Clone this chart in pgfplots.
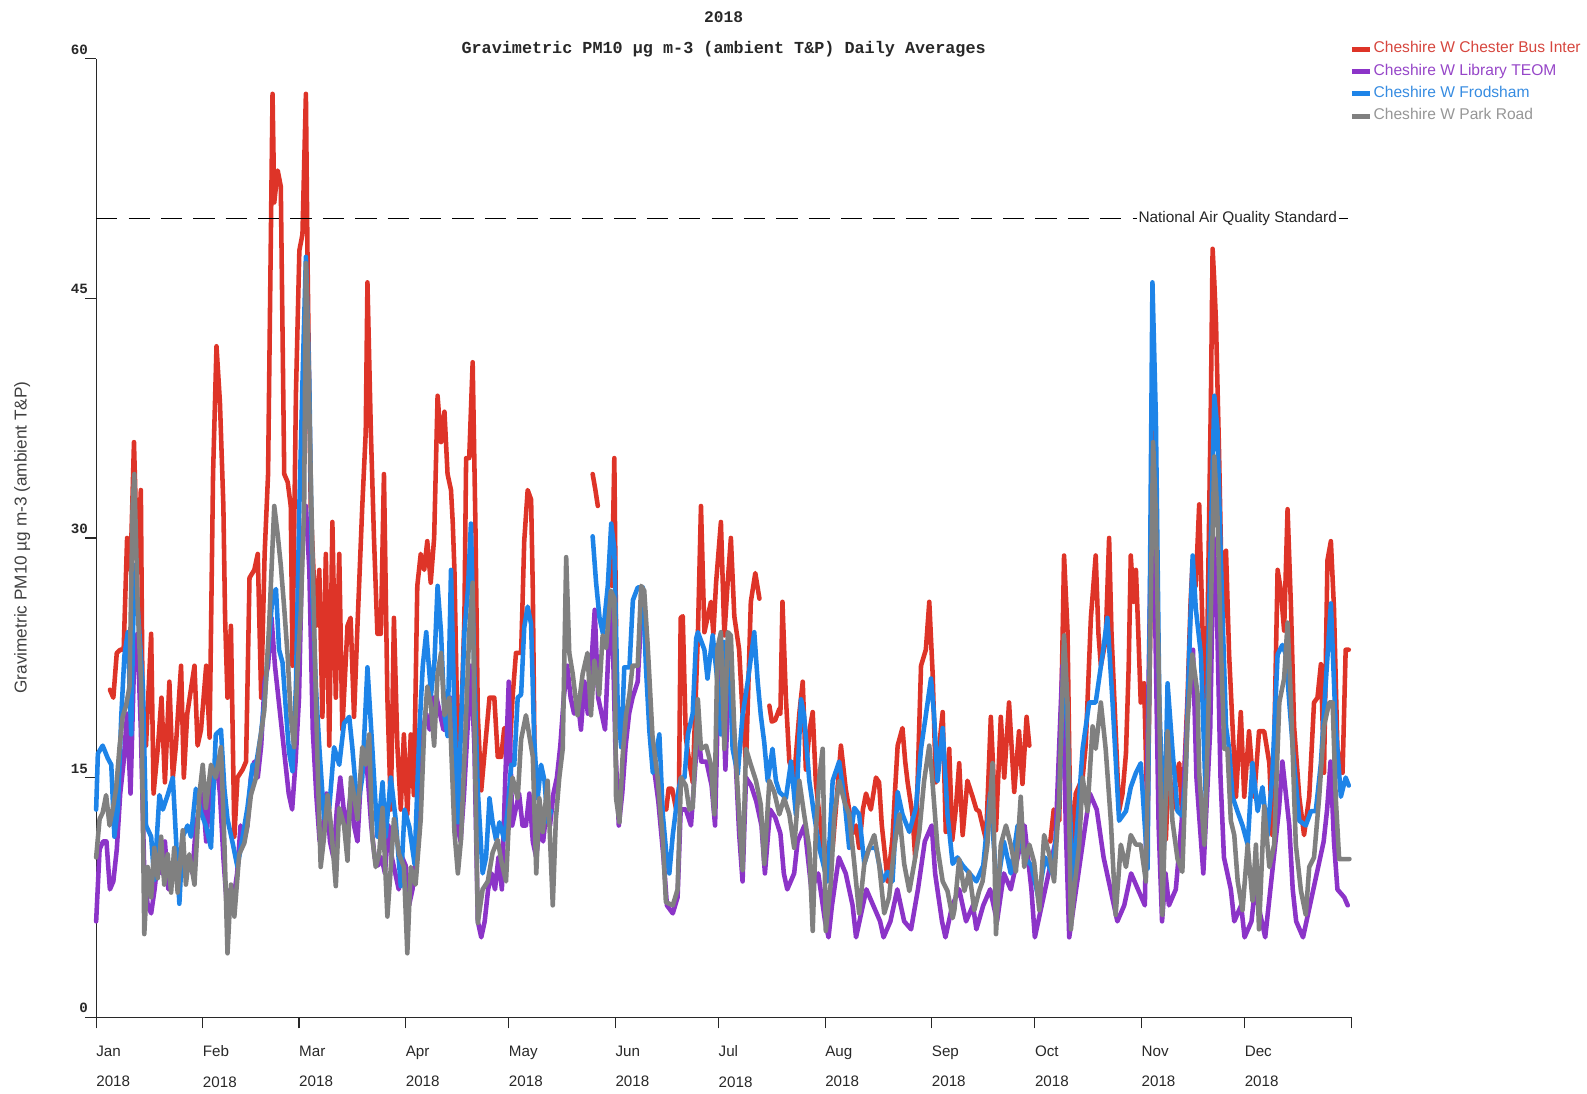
\documentclass[border=0pt]{standalone}
\usepackage{fontspec}
\setmainfont{Liberation Sans}
\newfontfamily\monob{Liberation Mono}
\usepackage{pgfplots}
\pgfplotsset{compat=1.18}
\definecolor{cred}{RGB}{222,52,40}
\definecolor{cpur}{RGB}{140,52,200}
\definecolor{cblu}{RGB}{30,132,232}
\definecolor{cgry}{RGB}{128,128,128}
\definecolor{tred}{RGB}{214,70,62}
\definecolor{tpur}{RGB}{150,70,200}
\definecolor{tblu}{RGB}{55,140,225}
\definecolor{tgry}{RGB}{150,150,150}
\definecolor{axc}{RGB}{40,40,40}
\begin{document}
\begin{tikzpicture}
\path[use as bounding box] (-95pt,-75pt) rectangle (1473pt,1005pt);
\begin{axis}[name=ax, at={(0,0)}, anchor=south west,
  scale only axis, width=1240pt, height=947pt,
  xmin=0, xmax=365, ymin=0, ymax=60,
  axis x line=bottom, axis y line=left,
  axis line style={-, axc, line width=1.1pt},
  tick style={axc, line width=1.1pt},
  tick align=outside, major tick length=11pt,
  xtick={0,31,59,90,120,151,181,212,243,273,304,334,365},
  xticklabels={Jan\\2018,Feb\\2018,Mar\\2018,Apr\\2018,May\\2018,Jun\\2018,Jul\\2018,Aug\\2018,Sep\\2018,Oct\\2018,Nov\\2018,Dec\\2018,{}},
  xticklabel style={anchor=north west, align=left, inner sep=0pt, yshift=-17pt, text=axc, font=\fontsize{15}{30}\selectfont},
  ytick={0,15,30,45,60},
  /pgf/number format/assume math mode=true,
  yticklabel style={anchor=south east, inner sep=1pt, xshift=4pt, yshift=3pt, text=axc, font=\monob\bfseries\fontsize{14}{14}\selectfont},
  unbounded coords=jump,
  clip=false,
  every axis plot/.append style={line width=4.5pt, line join=round, line cap=round},
  legend image code/.code={\draw[#1, line width=5pt, line cap=butt] (0pt,0pt) -- (18pt,0pt);},
  legend cell align=left,
  legend style={at={(axis description cs:1,1)}, anchor=north west, yshift=18pt, xshift=-2pt,
    draw=none, fill=none, inner sep=0pt, row sep=5pt,
    nodes={inner sep=1pt, text height=11pt, text depth=4pt, font=\fontsize{15.4}{17}\selectfont}},
]
\addplot[cred] coordinates {
(4,20.5)(5,20)(6,22.8)(7,23)(8,23)(9,30)(10,28)(11,36)(12,28)(13,33)(13.5,19.6)(14.5,17)(16,24)(16.7,14)(18,17)(19,20)(20,14.7)(21.3,21)(22.3,15)(23.2,17)(24.7,22)(25.5,15)(26.5,19)(28.6,22)(29.5,17)(30.5,18)(32,22)(33,17.5)(34,34)(35,42)(36,38.5)(37,32)(37.5,25)(38.2,20)(39.2,24.5)(40.2,11.3)(41.1,15)(42.6,15.5)(43.6,16)(44.6,27.5)(46,28)(47,29)(48,20)(49,29)(50,34)(51.3,57.8)(51.8,51)(52.8,53)(53.7,52)(54.2,43)(54.7,34)(55.7,33.5)(56.6,32)(57.1,22)(58.1,39)(59.1,48)(60,49)(61,57.8)(61.5,47)(62.4,32)(63.9,24.5)(64.9,28)(65.8,18.8)(66.8,29)(67.8,17)(68.7,31)(69.7,20)(70.7,29)(71.6,18)(73.1,24.5)(74,25)(75,18.8)(76,24.5)(77.4,32)(78.4,36.6)(78.9,46)(79.9,36.6)(80.8,30)(81.8,24)(82.8,24)(83.7,34)(84.7,20)(85.7,13)(86.6,25)(87.6,17)(88.6,13)(89.5,17.7)(90.5,12.7)(91.5,17.7)(92.4,13.9)(93.4,27)(94.4,29)(95.4,28)(96.3,29.8)(97.3,27.2)(98.3,30)(99.3,38.9)(100.3,36)(101.3,37.9)(102.2,34)(103.2,33)(103.7,31)(104.2,28)(105.2,16.3)(106.1,18)(107.1,25)(107.6,35)(108.5,35)(109.5,41)(110.3,30.9)(111,18.9)(112,14.2)(113.4,17.6)(114.4,20)(115.8,20)(116.8,16.3)(117.8,16.3)(118.7,18.1)(120.2,16.3)(121.1,20)(122.1,22.8)(123.6,22.8)(124.5,29.8)(125.5,33)(126.5,32.4)(127,26.7)(127.5,16.3)
(128,nan)
(144.4,34)(145.2,33)(145.9,32)
(147,nan)
(150,27)(150.7,35)(151.2,24.5)
(152,nan)
(165.8,13)(166.5,14.3)(167.5,14.3)(168.7,13)
(169,nan)
(169.5,14)(170,25)(170.6,25.1)(171.5,17.5)(172.5,16)(173.5,14.7)(175,23.9)(175.9,32)(176.9,24.1)(177.8,25)(178.8,26)(179.5,24)(180.3,27.2)(181.7,31)(182.7,23.9)(183.6,27)(184.6,30)(185.6,25.1)(187,23)(188,19)(189,15.8)(190.4,26)(191.7,27.8)(192.9,26.2)
(194,nan)
(195.8,19.5)(196.5,18.5)(197.5,18.6)(198.7,19.3)
(198.8,nan)
(199,19)(199.6,26)(200.6,20)(201.6,16)(203,15)(204.5,19)(205.5,21)(206.4,15.5)(207.5,18)(208.4,19.1)(209.3,14.7)(210.3,12.7)(211.2,11)(212.2,9.6)(213.2,11)(214.2,10.6)(215.5,14)(216.6,17)(218,14.3)(219,13)(220,11.5)(221,12)(221.9,10.6)(223,13)(223.9,14)(225.3,13)(226.8,15)(227.7,14.7)(228.5,12)(229.2,10.6)(230.2,8.5)(231,10)(231.6,11.2)(232.3,14)(233.1,17)(234.5,18.1)(235.3,16)(236,14.7)(237.4,12.7)(238.2,10)(238.9,14.7)(239.9,22)(241.3,23)(242.3,26)(243.3,21.4)(244.2,14.7)(245.2,17)(246.2,19.1)(247.1,11.6)(248.1,16.8)(249,11.1)(250,13)(251,15.9)(252,11.4)(253.4,14.8)(254.9,13.8)(256,13)(256.8,12.9)(257.8,12)(258.8,11.1)(260.2,18.8)(261.7,11.7)(263.1,18.8)(264.1,15)(265.5,19.7)(267,14.1)(268.4,17.9)(269.4,14.6)(270.6,18.8)(271.4,17)
(272,nan)
(277.5,11)(278.5,13)(280.1,12.3)(281.5,28.9)(282.5,24.2)(283.5,9.4)(284.9,14)(286.9,15)(287.8,17)(289.3,25)(290.7,28.9)(291.5,24)(292.2,22)(293.6,23.6)(294.6,30)(295.3,24)(296.1,20)(297.5,12.9)(298.5,14)(299.5,16.5)(300.3,22)(300.9,28.9)(301.7,26)(302.4,28)(303.1,24)(303.8,19.7)(304.8,20.9)(305.8,11.9)(306.6,25)(307.2,37)(308,30)(309,20)(310,12)(311.1,11.1)(312,16)(313,13)(314,15)(315,15.9)(315.9,12.3)(316.6,16)(317.4,20)(318.3,26)(318.9,28.6)(319.8,27)(320.8,32.1)(321.8,24.1)(322.7,16.8)(323.7,31.5)(324.2,38.6)(324.7,48.1)(325.2,46)(325.7,43.4)(326.6,35.1)(327.6,24.1)(328.6,29.2)(329.5,22.7)(330.5,18.2)(331.5,13.8)(332.9,19.1)(333.9,13.8)(335.3,17.9)(336.8,13.8)(338.2,17.9)(339.7,17.9)(341.2,15.9)(342.1,11.4)(343.6,28)(344.5,26.8)(345.5,24.2)(346.5,31.8)(347.5,25.6)(348.4,18.2)(349.9,13.8)(351.3,11.4)(352.8,13.8)(354.2,19.7)(355.2,20)(356.2,22.1)(357.1,15.3)(358.1,28.6)(359.1,29.8)(360,25.6)(361,16.8)(362.5,15.3)(363.4,23)(364.3,23)
};
\addlegendentry{\textcolor{tred}{Cheshire W Chester Bus Inter}}
\addplot[cpur] coordinates {
(0,6)(1,10.5)(2,11)(3,11)(4,8)(5,8.5)(6,10.5)(7,14)(8,16)(9,19)(10,14)(11,22)(12,24)(13,18)(14,9)(15,7)(16,6.5)(17,8)(18,10)(19,9)(20,11)(21,8)(22,9)(23,10)(24,8)(25,11)(26,9)(27,10)(28,9)(29,12)(30,13)(31,14)(32,11)(33,14)(34,15)(35,16)(36,14)(37,10)(38,7)(39,8)(40,7.5)(41,9)(42,12)(43,11)(44,12)(45,15)(46,16)(47,15)(48,17)(49,21)(50,22)(51,25)(52,22)(53,20)(54,18)(55,16)(56,14)(57,13)(58,16)(59,20)(60,30)(61,32)(62,28)(63,18)(64,14)(65,11)(66,12)(67,14)(68,11)(69,10)(70,13)(71,15)(72,13)(73,12)(74,14)(75,12)(76,11)(77,15)(78,17)(79,15)(80,12)(81,10)(82,9.5)(83,10)(84,9)(85,12)(86,10)(87,9)(88,8)(89,10)(90,9.5)(91,7)(92,8)(93,10)(94,14)(95,18)(96,19)(97,18)(98,20)(99,20)(100,19)(101,18)(102,18)(103,20)(104,16)(105,12)(106,11)(107,14)(108,18)(109,22)(110,17)(111,6)(112,5)(113,6)(114,8)(115,9)(116,8)(117,10)(118,8)(119,15)(120,21)(121,12)(122,13)(123,14)(124,12)(125,12)(126,14)(127,11)(128,10)(129,12)(130,11)(131,13)(132,12)(133,14)(134,15)(135,17)(136,20)(137,22)(138,20)(139,19)(140,20)(141,18)(142,21)(143,19)(144,22)(145,25.5)(146,20)(147,19)(148,18)(149,23)(150,26)(151,17)(152,12)(153,14)(154,17)(155,19)(156,20)(157.5,21)(158.5,25)(159.5,25)(160.5,22)(162,16)(163.5,13.5)(165,10)(166,7)(167.7,6.5)(169.1,7.5)(170,13)(171.5,13)(173,12)(175,18)(176,16)(177.5,16)(179,14.5)(180,12)(181,21)(182,22)(183,15.5)(184,21)(185,20)(186,16)(187,11.5)(188,8.5)(189,15)(190.5,14.5)(192,13.5)(193.5,12)(194.5,9)(196,13)(197.5,12.5)(199,11.5)(200,9)(201,8)(202,8.5)(203,9)(204,11)(206,12)(208,8)(210,9)(212,6)(213,5)(214,7)(216,10)(218,9)(220,7)(221,5)(222,6)(224,8)(226,7)(228,6)(229,5)(231,6)(233,8)(235,6)(237,5.5)(239,8)(241,11)(243,12)(244,9)(246,6)(247,5)(249,7)(251,8)(253,6)(255,7)(256,5.5)(258,7)(260,8)(262,6)(264,9)(266,8)(268,10)(270,12)(272,8)(273,5)(275,7)(277,9)(279,11)(281,22)(282,12)(283,5)(285,8)(287,11)(289,14)(291,13)(293,10)(295,8)(297,6)(299,7)(301,9)(303,8)(305,7)(307,33)(308,25)(309,12)(310,6)(311,9)(312,7)(314,8)(316,13)(318,22)(319,23)(320,15)(322,9)(324,18)(325,30)(326,25)(327,15)(328,10)(330,8)(331,6)(333,7)(334,5)(336,6)(337,8)(339,6)(340,5)(342,9)(344,13)(345,16)(347,12)(348,8)(349,6)(351,5)(353,7)(355,9)(357,11)(358,13)(359,16)(360,11)(361,8)(363,7.5)(364,7)
};
\addlegendentry{\textcolor{tpur}{Cheshire W Library TEOM}}
\addplot[cblu] coordinates {
(0,13)(0.5,16.5)(1.9,17)(3.4,16.2)(4.4,15.8)(5.3,11.3)(6.3,13)(7.3,18.8)(8.2,22.6)(9.2,24.1)(10.2,17.7)(11.1,28.3)(12.1,25.6)(13.6,20.7)(14.5,12)(16,11.3)(16.9,8.6)(18.4,13.9)(19.4,13)(20.8,13.9)(22.3,15)(23.2,11.3)(24.2,7.1)(25.2,11.3)(26.6,12)(27.6,11.3)(29,14.3)(30.5,12.8)(31.9,12)(33.4,10.6)(34.8,17.7)(36.3,18)(37.3,14.3)(38.2,12.4)(39.7,10.9)(41.1,9.4)(42.6,11.3)(44,13.1)(45.5,15.8)(46.5,15.8)(47.9,17.7)(48.9,19.6)(49.9,22.6)(51.3,26.4)(52.3,26.8)(53.2,23)(54.2,22.2)(55.2,19.2)(56.1,16.6)(57.1,15.4)(58.1,20.7)(59.1,32)(60,39.7)(61,47.6)(62,39.7)(62.9,26.4)(63.9,20.7)(64.9,16.9)(66.3,12.4)(67.8,13.1)(69.2,16.9)(70.7,15.8)(72.1,18.4)(73.6,18.8)(74.5,16.9)(76,13.1)(77.4,15)(78.9,21.9)(80.3,16.9)(81.8,11.3)(83.3,14.7)(84.2,11.3)(85.7,15)(87.1,12.4)(88.6,8.2)(89.7,13)(91.1,11.9)(92.6,9.6)(94,17.9)(95,22)(96,24.1)(97.4,20.2)(98.4,22.3)(99.3,27)(100.3,24.1)(101.3,18.9)(102.2,17.6)(103.2,28)(104.2,18.9)(105.2,12.2)(106.1,18.1)(107.1,24.1)(108.1,26.7)(109,30.9)(110,21.5)(111,14.2)(112.4,9)(113.4,10)(114.4,13.7)(115.3,12.2)(116.3,11.1)(117.3,12.2)(118.7,11.1)(119.7,13)(120.7,15.8)(121.6,15.8)(122.6,20)(123.6,20.2)(124.5,24.4)(125.5,25.7)(126.5,24.6)(127.4,17.4)(128.4,13.7)(129.4,15.8)(130.4,14.8)(131.3,12.2)(132.3,12.9)
(133,nan)
(144.4,30.1)(145.4,27.2)(146.4,25)(147.4,24)(148.8,27)(149.8,30.9)(150.7,29.3)(151.7,19.3)(152.7,16.9)(153.6,21.9)(155.1,21.9)(156.1,26.1)(157.5,26.9)(159,26.9)(159.9,21.9)(160.9,17.9)(161.9,15.3)(162.9,16.6)(163.8,17.7)(164.8,12.7)(165.8,10.3)(166.7,9)(167.7,11.4)(169.2,14)(170.1,15)(171.1,15)(172.1,17.7)(173.5,19)(174.5,23.7)(175,24.1)(176.9,23)(177.8,21.2)(179.3,23.9)(180.7,21)(181.7,17.7)(182.7,23.5)(184.1,23)(185.1,16.8)(186.6,15.2)(188,18.9)(189.5,21)(191.4,24.1)(192.4,21)(193.3,18.9)(194.3,17.2)(195.3,14.8)(196.7,16.8)(197.7,14.8)(198.7,14.1)(200.6,13.7)(202.1,16)(203.5,12.7)(205,19.9)(205.9,18.9)(207.4,14.8)(208.8,12.7)(210.3,10.6)(212.7,8.5)(214.2,14.8)(216.1,16)(217.6,13.7)(219,10.6)(220.5,13.1)(221.9,12.7)(223.4,9.6)(224.8,10.6)(226.8,10.6)(228.7,8.5)(230.2,9.1)(231.6,8.5)(233.1,14.1)(234.5,12.7)(236.5,11.6)(238.4,13.1)(239.9,16.8)(241.3,18.9)(242.8,21.2)(243.7,18.9)(244.7,14.8)(246.2,18.1)(247.6,12.7)(249.1,9.6)(250.5,10)(252,9.5)(254,9)(256,8.5)(258,9.5)(260,14)(262,8)(264,11)(266,9)(268,12)(270,10)(272,9.5)(274,7.5)(276,10)(278,9)(280,13)(281.5,23)(282.5,18)(284,7.9)(286.9,16.8)(288.8,19.7)(290.7,19.7)(292.7,22.7)(294.1,25)(295.6,19.7)(297.5,12.3)(299.5,12.9)(300.9,14.4)(302.4,15.3)(303.8,15.9)(305.8,9.3)(307.2,46)(308.2,37.5)(309.2,19.7)(310.6,10.8)(311.6,20.9)(313,16.8)(314.5,12.9)(315.9,12.6)(316.9,15.3)(317.9,22.7)(318.9,28.9)(319.8,25.6)(321.3,22.7)(322.7,13.8)(323.7,25.6)(325.2,38.9)(326.1,36.9)(327.1,28.6)(328.6,18.2)(329.5,16.8)(330.5,13.8)(331.9,12.9)(333.4,12)(334.9,10.8)(336.3,15.9)(337.8,12.9)(339.2,14.4)(340.7,11.4)(342.1,15.3)(343.6,22.7)(345,23.3)(346,22.7)(347,19.7)(348.4,15.9)(349.9,12.3)(351.8,12)(353.3,12.9)(354.7,12.9)(356.2,15.9)(357.6,20.9)(359.1,25.9)(360.5,18.2)(362,13.8)(363.4,15)(364.3,14.5)
};
\addlegendentry{\textcolor{tblu}{Cheshire W Frodsham}}
\addplot[cgry] coordinates {
(0,10)(1,12.4)(1.9,12.8)(2.9,13.9)(3.9,12)(4.8,13)(5.8,14.3)(6.8,16.9)(7.7,18.8)(8.7,19.5)(9.7,20.7)(10.6,32)(11.1,34)(12.1,25.6)(13.1,20.7)(14,5.2)(15,9.4)(16,7.5)(16.9,10.6)(17.9,8.7)(18.9,11.3)(19.8,8.3)(20.8,10.2)(21.8,7.8)(22.7,10.6)(23.7,7.8)(25.2,11.7)(26.1,8.3)(27.1,10.2)(28.6,8.3)(30,13.9)(31,15.8)(31.9,13.1)(33.4,15.8)(34.8,15)(36.3,16.9)(37.3,10.9)(38.2,4)(39.2,8.3)(40.2,6.3)(41.6,10.2)(43.1,10.9)(44,12)(45,13.9)(46.5,15)(47.4,16.9)(48.9,19.2)(50.3,24.5)(51.8,32)(52.8,30.2)(53.7,28.3)(54.7,25.6)(55.7,22.6)(56.6,18.8)(57.6,16.9)(58.6,21.9)(59.5,25.3)(60.5,32)(61,47.2)(61.5,43.4)(62.4,34)(63.4,24.5)(64.4,15.8)(65.3,9.4)(66.3,11.3)(67.3,13.9)(68.3,12)(69.7,8.2)(70.7,13.1)(72.1,12)(73.1,9.8)(74.1,15)(75,13.9)(76,12.4)(77.4,16.9)(78.4,15.8)(79.4,17.7)(80.3,11.3)(81.3,9.4)(82.3,10.2)(83.3,13.1)(84.7,6.3)(85.7,9.4)(86.6,12.4)(88.1,10.2)(89.5,9.4)(90.5,4)(91.5,9.4)(92.9,8.3)(94.4,12.4)(95.4,18)(96.3,20.7)(97.3,19.6)(98.3,17)(99.3,21.5)(100.3,22.8)(101.3,18.9)(102.7,20)(104.2,11.6)(105.2,9)(106.1,11.1)(107.6,18.9)(108.5,24.1)(109.5,27.2)(110,18.9)(111,5.9)(112.4,8)(113.9,8.5)(115.3,10.3)(116.8,11.1)(117.8,9.8)(119.2,8.5)(120.2,13)(121.1,15)(122.6,13.7)(123.6,17.4)(125,18.9)(126,17.6)(127,16.3)(128,9)(128.9,13.7)(129.9,11.6)(131.3,14.8)(132.8,7)(133.7,12.4)(134.7,15)(135.7,16.8)(136.7,28.8)(137.6,22.8)(138.6,21.5)(140,18.9)(141.5,21.5)(142.9,22.8)(143.9,18.9)(144.9,22.3)(146.3,20.2)(147.3,23.9)(148.3,23.1)(149.7,26.7)(150.7,26.2)(151.2,13.7)(152.2,12.2)(153.1,16.3)(154.1,18.9)(155.1,20.2)(156,22)(157.5,22)(158.5,27)(159.4,26.7)(160.4,23.3)(161.8,17.6)(163.3,15)(164.8,11.1)(165.7,7.2)(167.7,7)(169.1,8)(170.1,15)(171.5,14.5)(172.5,13)(173.5,13.1)(175,19.9)(175.9,16.8)(177.4,17)(178.8,15.8)(179.8,12.7)(180.7,23.1)(181.7,24.1)(182.7,16.8)(183.7,24.1)(184.6,23.9)(185.6,17.9)(187,12.7)(188,9.2)(189,16.8)(190.4,15.8)(191.9,14.8)(193.3,13.3)(194.3,9.6)(195.8,14.8)(197.2,14.1)(198.7,12.7)(200.1,13.7)(201.6,12.7)(203,10.6)(204.5,14.8)(205.9,12.7)(207.4,10.6)(208.4,5.4)(209.3,11.6)(210.3,15)(211.3,16.8)(212.2,5.4)(213.7,8.5)(214.7,12.7)(216.1,14.8)(217.6,13.5)(219,12.7)(220.5,9.6)(221.9,6.5)(223.4,9.6)(224.8,10.6)(226.3,11.4)(227.7,9.6)(229.2,6.5)(230.6,7.5)(232.1,10.6)(233.6,12.7)(235,9.6)(236.5,7.9)(237.9,9.6)(239.4,11.6)(240.8,14.8)(242.3,17)(243.2,14.8)(244.7,10.6)(246.2,8.5)(247.6,7.9)(249.1,6.2)(249.6,6.7)(251,9.9)(252.5,7.9)(253.9,9.1)(255.4,6.7)(256.8,7.9)(257.8,8.5)(259.2,10.8)(260.7,15.9)(261.7,5.2)(263.1,10.8)(264.6,12)(266,10.8)(267.5,9.1)(268.9,13.8)(269.9,9.4)(271.4,10.8)(272.8,9.7)(274.3,6.7)(275.7,11.4)(277.2,10.2)(278.6,8.5)(280.1,13.8)(281.5,23.9)(282.5,19.7)(283.5,5.5)(284.4,7.9)(285.9,10.8)(286.9,15)(288.3,12.9)(289.8,18.2)(290.7,16.8)(292.2,19.7)(293.6,16.8)(295.1,12.3)(296.5,6.4)(298,10.8)(299.5,9.4)(300.9,11.4)(302.4,10.8)(303.8,10.8)(305.3,8.5)(306.7,25.6)(307.4,36)(308.2,31.5)(309.2,19.7)(310.1,6.4)(311.6,17.9)(313,12.3)(314.5,9.9)(315.9,9.1)(317.4,18.5)(318.8,22.7)(320.3,20.3)(320.8,15.3)(322.3,10.8)(323.2,16.8)(324.2,25.6)(325.2,35.1)(326.1,31.5)(327.1,23.3)(328.1,16.8)(329,16.8)(330,12.3)(331,11.4)(332,8.5)(333.4,6.7)(334.9,10.8)(336.3,7.3)(337.3,10.8)(338.2,5.5)(339.7,13.2)(341.2,9.4)(342.6,10.8)(344.1,19.7)(345.5,21.2)(346.5,24.7)(347.5,19.7)(348.9,10.8)(350.4,7.9)(351.8,6.4)(352.8,9.4)(354.2,10)(355.7,13.8)(357.1,18.2)(358.6,19.7)(359.6,19.7)(360.5,13.8)(361.5,9.9)(363.4,9.9)(364.5,9.9)
};
\addlegendentry{\textcolor{tgry}{Cheshire W Park Road}}
\addplot[black, line width=0.9pt, line cap=butt, dash pattern=on 21pt off 11pt, forget plot] coordinates {(0,50) (365,50)};
\node[anchor=east, fill=white, inner sep=2pt, font=\fontsize{15.2}{17}\selectfont, text=black!85] at (axis cs:361.5,50) {National Air Quality Standard};
\end{axis}
\node[font=\monob\bfseries\fontsize{16}{16}\selectfont, text=axc] at ([yshift=41pt]ax.north) {2018};
\node[font=\monob\bfseries\fontsize{16.6}{16.6}\selectfont, text=axc] at ([yshift=9pt]ax.north) {Gravimetric PM10 µg m-3 (ambient T\&P) Daily Averages};
\node[rotate=90, font=\fontsize{17}{19}\selectfont, text=black!75] at (-73pt,474pt) {Gravimetric PM10 µg m-3 (ambient T\&P)};
\end{tikzpicture}
\end{document}
